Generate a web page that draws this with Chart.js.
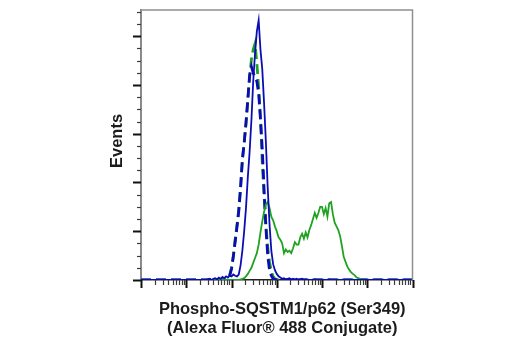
<!DOCTYPE html>
<html>
<head>
<meta charset="utf-8">
<script src="https://cdn.jsdelivr.net/npm/chart.js@4.4.1/dist/chart.umd.min.js"></script>
<style>
  html, body { margin: 0; padding: 0; background: #ffffff; }
  canvas { display: block; }
</style>
</head>
<body>
<canvas id="histogram" width="520" height="350"></canvas>
<script>
// Histogram bin centres, in log10 fluorescence units
const logIntensity = [
  0.00,
  1.40, 1.44, 1.48, 1.52, 1.56, 1.60, 1.64, 1.68, 1.72, 1.76,
  1.80, 1.84, 1.88, 1.92, 1.96, 2.00, 2.04, 2.08, 2.12, 2.16,
  2.20, 2.24, 2.28, 2.32, 2.36, 2.40, 2.44, 2.48, 2.52, 2.56,
  2.60, 2.64, 2.68, 2.72, 2.76, 2.80, 2.84, 2.88, 2.92, 2.96,
  3.00, 3.04, 3.08, 3.12, 3.16, 3.20, 3.24, 3.28, 3.32, 3.36,
  3.40, 3.44, 3.48, 3.52, 3.56, 3.60, 3.64, 3.68, 3.72, 3.76,
  3.80, 3.84, 3.88, 3.92, 3.96, 4.00, 4.04, 4.08, 4.12, 4.16,
  4.20, 4.24, 4.28, 4.32, 4.36, 4.40, 4.44, 4.48, 4.52, 4.56,
  4.60, 4.64, 4.68, 4.72, 4.76, 4.80, 4.84, 4.88, 4.92, 4.96,
  5.00,
  6.00
];

// Event counts per bin (blue solid line)
const untreatedStained = [
  0,
  0, 0, 0.05, 0.1, 0, 0.1, 0.15, 0.05, 0.2, 0.1,
  0.25, 0.15, 0.3, 0.2, 0.35, 0.3, 0.45, 0.35, 0.3, 0.45,
  1.2, 2.4, 4.0, 5.9, 8.4, 10.5, 13.1, 16.3, 18.6, 20.4,
  21.3, 18.9, 17.3, 14.5, 11.3, 7.6, 4.6, 2.4, 1.3, 0.8,
  0.5, 0.3, 0.2, 0.1, 0.15, 0.05, 0.1, 0.15, 0, 0.1,
  0.05, 0.1, 0, 0.05, 0.1, 0, 0.05, 0, 0, 0,
  0, 0.05, 0, 0, 0, 0, 0, 0, 0, 0.05,
  0, 0, 0, 0, 0, 0, 0, 0, 0, 0,
  0, 0, 0, 0, 0, 0, 0, 0, 0, 0,
  0,
  0
];

// Event counts per bin (green solid line)
const treatedStained = [
  0,
  0, 0, 0, 0, 0, 0, 0, 0, 0, 0,
  0, 0, 0, 0, 0, 0, 0, 0, 0, 0,
  0.05, 0.1, 0.15, 0.3, 0.5, 0.75, 1.0, 1.4, 1.8, 2.2,
  2.9, 3.9, 4.8, 5.6, 6.2, 6.4, 5.9, 5.2, 4.9, 4.4,
  4.0, 3.5, 3.3, 3.0, 2.2, 2.5, 2.3, 2.4, 2.2, 2.6,
  3.1, 2.9, 2.9, 3.5, 3.8, 3.4, 3.9, 3.5, 4.1, 4.5,
  5.0, 5.5, 5.1, 5.5, 6.0, 6.0, 5.4, 5.9, 5.2, 6.3,
  6.4, 5.4, 4.7, 4.4, 4.1, 3.6, 2.8, 1.9, 1.5, 1.1,
  0.85, 0.65, 0.5, 0.4, 0.22, 0.16, 0.1, 0.05, 0.02, 0,
  0,
  0
];

// Event counts per bin (blue dashed line)
const untreatedControl = [
  0,
  0, 0, 0, 0, 0, 0, 0, 0, 0, 0,
  0, 0, 0, 0.15, 0.35, 0.9, 1.9, 3.1, 4.3, 5.6,
  7.5, 9.9, 11.2, 12.9, 14.8, 16.8, 17.5, 17.0, 16.6, 16.3,
  15.3, 13.2, 10.8, 7.4, 4.3, 2.0, 0.8, 0.35, 0.1, 0.05,
  0, 0, 0, 0, 0, 0, 0, 0, 0, 0,
  0, 0, 0, 0, 0, 0, 0, 0, 0, 0,
  0, 0, 0, 0, 0, 0, 0, 0, 0, 0,
  0, 0, 0, 0, 0, 0, 0, 0, 0, 0,
  0, 0, 0, 0, 0, 0, 0, 0, 0, 0,
  0,
  0
];

// Event counts per bin (green dashed line)
const treatedControl = [
  0,
  0, 0, 0, 0, 0, 0, 0, 0, 0, 0,
  0, 0, 0, 0.2, 0.4, 1.0, 2.0, 3.3, 4.5, 5.8,
  7.6, 9.8, 11.3, 12.8, 14.7, 16.6, 18.1, 18.9, 19.4, 17.8,
  15.8, 13.4, 9.6, 6.9, 4.6, 2.7, 1.5, 0.7, 0.3, 0.1,
  0.05, 0, 0, 0, 0, 0, 0, 0, 0, 0,
  0, 0, 0, 0, 0, 0, 0, 0, 0, 0,
  0, 0, 0, 0, 0, 0, 0, 0, 0, 0,
  0, 0, 0, 0, 0, 0, 0, 0, 0, 0,
  0, 0, 0, 0, 0, 0, 0, 0, 0, 0,
  0,
  0
];

// Axis ticks: decades on the log axis, counts on the event axis
const decades = [0, 1, 2, 3, 4, 5, 6];
const decadeSubdivisions = [1, 2, 3, 4, 5, 6, 7, 8, 9];
const eventTicks = [0, 1, 2, 3, 4, 5, 6, 7, 8, 9, 10, 11, 12, 13, 14, 15, 16, 17, 18, 19, 20, 21, 22];
const eventMajorEvery = 4;

const xTitleLines = ['Phospho-SQSTM1/p62 (Ser349)', '(Alexa Fluor® 488 Conjugate)'];
const yTitle = 'Events';

const BLUE = '#0c0cb6';
const GREEN = '#1fa31f';
const TITLE_FONT = 'bold 16.5px "Liberation Sans", Arial, Helvetica, sans-serif';

function series(values) {
  return logIntensity.map((v, i) => ({ x: v, y: values[i] }));
}

// Log-style tick positions: log10(k * 10^n)
function logTickValues() {
  const out = [];
  decades.forEach((d, i) => {
    if (i === decades.length - 1) { out.push({ value: d, major: true }); return; }
    decadeSubdivisions.forEach(k => out.push({ value: d + Math.log10(k), major: k === 1 }));
  });
  return out;
}

// Tick marks, plot frame and axis titles
const cytometryFrame = {
  id: 'cytometryFrame',
  afterDraw(chart) {
    const { ctx, chartArea: a, scales: { x, y } } = chart;
    ctx.save();

    // top and right edges of the plot box
    ctx.strokeStyle = '#8f8f8f';
    ctx.lineWidth = 1.5;
    ctx.beginPath();
    ctx.moveTo(a.left, a.top);
    ctx.lineTo(a.right, a.top);
    ctx.lineTo(a.right, a.bottom);
    ctx.stroke();

    // event-axis ticks (outside, left)
    y.ticks.forEach(t => {
      const py = Math.round(y.getPixelForValue(t.value)) + 0.5;
      const major = t.value % eventMajorEvery === 0;
      ctx.beginPath();
      ctx.lineWidth = major ? 2 : 1.2;
      ctx.strokeStyle = major ? '#111111' : '#3c3c3c';
      ctx.moveTo(a.left, py);
      ctx.lineTo(a.left - (major ? 8 : 4), py);
      ctx.stroke();
    });

    // log-axis ticks (outside, below)
    x.ticks.forEach(t => {
      const px = Math.round(x.getPixelForValue(t.value)) + 0.5;
      ctx.beginPath();
      ctx.lineWidth = t.major ? 2 : 1.2;
      ctx.strokeStyle = t.major ? '#111111' : '#3c3c3c';
      ctx.moveTo(px, a.bottom);
      ctx.lineTo(px, a.bottom + (t.major ? 8 : 5));
      ctx.stroke();
    });

    // axis titles
    ctx.fillStyle = '#1b1b1b';
    ctx.font = TITLE_FONT;
    ctx.textAlign = 'center';
    ctx.textBaseline = 'middle';
    const cx = (a.left + a.right) / 2 + 5.5;
    xTitleLines.forEach((line, i) => ctx.fillText(line, cx, a.bottom + 29 + i * 19));

    ctx.translate(a.left - 23.5, (a.top + a.bottom) / 2 - 4);
    ctx.rotate(-Math.PI / 2);
    ctx.fillText(yTitle, 0, 0);

    ctx.restore();
  }
};

new Chart(document.getElementById('histogram'), {
  type: 'line',
  data: {
    datasets: [
      { data: series(untreatedStained), borderColor: BLUE, borderWidth: 1.8 },
      { data: series(treatedStained), borderColor: GREEN, borderWidth: 1.8 },
      { data: series(untreatedControl), borderColor: BLUE, borderWidth: 2.8, borderDash: [10, 5] },
      { data: series(treatedControl), borderColor: GREEN, borderWidth: 2.8, borderDash: [10, 5] }
    ]
  },
  options: {
    responsive: false,
    animation: false,
    events: [],
    layout: { padding: { left: 0, right: 107.5, top: 10, bottom: 0 } },
    plugins: { legend: { display: false }, tooltip: { enabled: false } },
    elements: { point: { radius: 0 }, line: { tension: 0, fill: false } },
    scales: {
      x: {
        type: 'linear',
        min: 0,
        max: 6,
        afterBuildTicks: s => { s.ticks = logTickValues(); },
        afterFit: s => { s.height = 70; },
        ticks: { display: false },
        grid: { display: false, drawTicks: false },
        border: { display: true, color: '#222222', width: 1.5 }
      },
      y: {
        type: 'linear',
        min: 0,
        max: 22.15,
        afterBuildTicks: s => { s.ticks = eventTicks.map(v => ({ value: v })); },
        afterFit: s => { s.width = 141; },
        ticks: { display: false },
        grid: { display: false, drawTicks: false },
        border: { display: true, color: '#8a8a8a', width: 2 }
      }
    }
  },
  plugins: [cytometryFrame]
});
</script>
</body>
</html>
